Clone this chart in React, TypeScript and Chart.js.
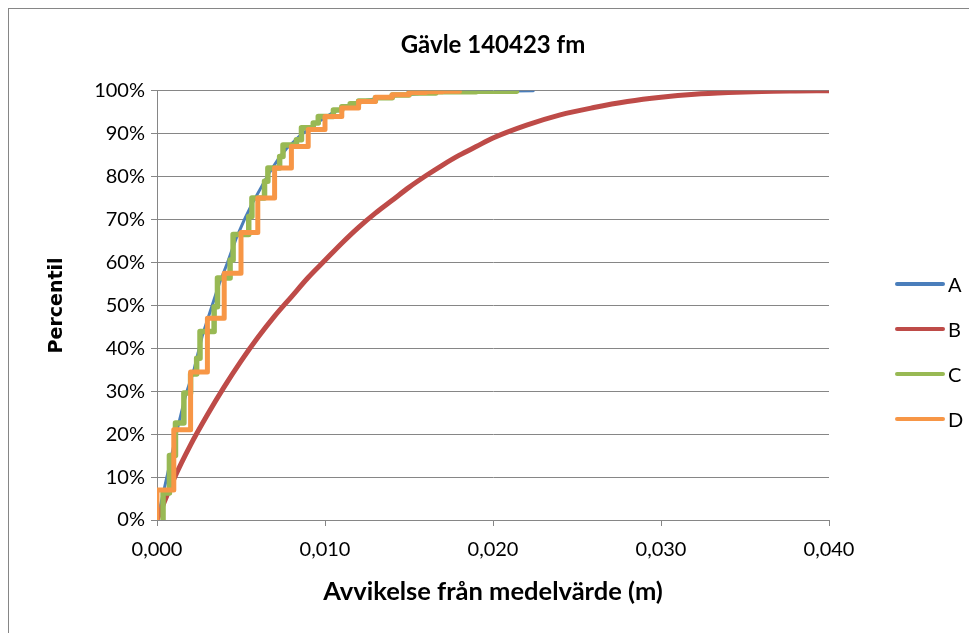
import React, { useEffect, useRef } from 'react';
import { Chart, registerables } from 'chart.js';

Chart.register(...registerables);

const TITLE = 'Gävle 140423 fm';
const X_TITLE = 'Avvikelse från medelvärde (m)';
const Y_TITLE = 'Percentil';
const SERIES_NAMES = ['A', 'B', 'C', 'D'];
const SERIES_COLORS = ['#4A7EBB', '#BE4B48', '#98B954', '#F79646'];
const SERIES_WIDTHS = [3, 5, 5.5, 5];

const X_MIN = 0;
const X_MAX = 0.04;
const X_STEP = 0.01;
const Y_MIN = 0;
const Y_MAX = 100;
const Y_STEP = 10;

// A (blue)
const aX = [0, 0.0003, 0.0007, 0.0012, 0.0017, 0.0022, 0.0027, 0.0032, 0.0037, 0.0042, 0.0047, 0.0052, 0.0057, 0.0062, 0.0067, 0.0072, 0.0077, 0.0085, 0.0095, 0.0105, 0.0115, 0.0125, 0.014, 0.016, 0.018, 0.02, 0.0224];
const aY = [0, 5, 12, 21, 29, 35, 43, 49, 55, 60, 65.5, 70, 74, 77.5, 81, 84, 86.5, 89.5, 92.5, 95, 96.7, 97.8, 98.8, 99.5, 99.8, 99.9, 100];

// B (red)
const bX = [0, 0.001, 0.002, 0.003, 0.004, 0.005, 0.006, 0.007, 0.008, 0.009, 0.01, 0.011, 0.012, 0.013, 0.014, 0.015, 0.016, 0.017, 0.018, 0.019, 0.02, 0.022, 0.024, 0.026, 0.028, 0.03, 0.032, 0.034, 0.036, 0.038, 0.04];
const bY = [0, 9.5, 17.5, 24.5, 31, 37, 42.5, 47.5, 52, 56.5, 60.5, 64.5, 68.2, 71.5, 74.5, 77.5, 80.2, 82.7, 85, 87, 89, 92, 94.4, 96.1, 97.5, 98.5, 99.2, 99.6, 99.85, 99.95, 100];

// C (green), stepped
const cX = [0.00036, 0.00036, 0.00074, 0.0011, 0.0016, 0.002, 0.00236, 0.00256, 0.0034, 0.0036, 0.00435, 0.00453, 0.00546, 0.00565, 0.0064, 0.0066, 0.0073, 0.0075, 0.0083, 0.0086, 0.0093, 0.0096, 0.0105, 0.011, 0.0115, 0.012, 0.013, 0.014, 0.015, 0.0166, 0.019, 0.0214];
const cY = [0, 6.3, 15, 22.6, 29.6, 34, 37.7, 43.9, 49.7, 56.4, 60.6, 66.5, 70.7, 75, 78.9, 82, 84.7, 87.4, 88.6, 91.4, 92.5, 94, 95.5, 96.3, 97, 97.6, 98.4, 99, 99.5, 99.8, 99.9, 100];

// D (orange), stepped at whole millimetres
const dX = [0, 0, 0.001, 0.002, 0.003, 0.004, 0.005, 0.006, 0.007, 0.008, 0.009, 0.01, 0.011, 0.012, 0.013, 0.014, 0.015, 0.016, 0.017, 0.018];
const dY = [0, 7, 21, 34.5, 47, 57.5, 67, 75, 82, 87, 91, 94, 96, 97.5, 98.5, 99.1, 99.6, 99.8, 99.9, 100];

const SERIES_X = [aX, bX, cX, dX];
const SERIES_Y = [aY, bY, cY, dY];
const SERIES_STEPPED: (false | 'before')[] = [false, false, 'before', 'before'];

const FONT = 'Lato, "Open Sans", sans-serif';
const GRID = '#868686';

export default function App() {
  const ref = useRef<HTMLCanvasElement | null>(null);

  useEffect(() => {
    if (!ref.current) return;
    const datasets = SERIES_NAMES.map((name, i) => ({
      label: name,
      data: SERIES_X[i].map((x, j) => ({ x, y: SERIES_Y[i][j] })),
      borderColor: SERIES_COLORS[i],
      backgroundColor: SERIES_COLORS[i],
      borderWidth: SERIES_WIDTHS[i],
      pointRadius: 0,
      pointHoverRadius: 0,
      stepped: SERIES_STEPPED[i],
      tension: i === 1 ? 0.4 : 0,
      cubicInterpolationMode: i === 1 ? ('monotone' as const) : ('default' as const),
      borderCapStyle: 'round' as const,
      borderJoinStyle: 'round' as const,
      order: SERIES_NAMES.length - i,
    }));

    const chart = new Chart(ref.current, {
      type: 'line',
      data: { datasets },
      options: {
        animation: false,
        responsive: false,
        devicePixelRatio: 1,
        layout: { padding: { left: 0, right: 0, top: 0, bottom: 0 } },
        plugins: {
          legend: { display: false },
          tooltip: { enabled: false },
          title: {
            display: true,
            text: TITLE,
            color: '#000',
            font: { family: FONT, size: 24, weight: 'bold' },
            padding: { top: 22, bottom: 31 },
          },
        },
        scales: {
          x: {
            type: 'linear',
            min: X_MIN,
            max: X_MAX,
            afterFit: (s: any) => { s.height = 113; },
            ticks: {
              stepSize: X_STEP,
              color: '#000',
              font: { family: FONT, size: 20 },
              padding: 12,
              callback: (v: any) => Number(v).toFixed(3).replace('.', ','),
            },
            grid: { drawOnChartArea: false, drawTicks: true, tickLength: 6, color: GRID },
            border: { display: true, color: GRID },
            title: {
              display: true,
              text: X_TITLE,
              color: '#000',
              font: { family: FONT, size: 25.5, weight: 'bold' },
              padding: { top: 0, bottom: 26 },
            },
          },
          y: {
            type: 'linear',
            min: Y_MIN,
            max: Y_MAX,
            afterFit: (s: any) => { s.width = 148; },
            ticks: {
              stepSize: Y_STEP,
              color: '#000',
              font: { family: FONT, size: 20 },
              padding: 6,
              callback: (v: any) => `${v}%`,
            },
            grid: { drawOnChartArea: true, drawTicks: true, tickLength: 6, color: GRID },
            border: { display: true, color: GRID },
            title: {
              display: true,
              text: Y_TITLE,
              color: '#000',
              font: { family: '"DejaVu Sans", Verdana, sans-serif', size: 19, weight: 'bold' },
              padding: { top: 37, bottom: 0 },
            },
          },
          yRight: {
            type: 'linear',
            position: 'right',
            display: true,
            min: Y_MIN,
            max: Y_MAX,
            afterFit: (s: any) => { s.width = 148; },
            ticks: { display: false },
            grid: { display: false, drawTicks: false },
            border: { display: false },
          },
        },
      },
    });
    return () => chart.destroy();
  }, []);

  const legendCenters = [284, 329, 374, 419];

  return (
    <div
      style={{
        position: 'relative',
        boxSizing: 'border-box',
        width: 969,
        height: 625,
        borderLeft: `1px solid ${GRID}`,
        borderTop: `1px solid ${GRID}`,
        background: '#fff',
        overflow: 'hidden',
      }}
    >
      <canvas ref={ref} width={968} height={624} style={{ display: 'block', width: 968, height: 624 }} />
      {SERIES_NAMES.map((name, i) => (
        <div key={name}>
          <div
            style={{
              position: 'absolute',
              left: 886,
              top: legendCenters[i] - 9 - 2,
              width: 50,
              height: 4,
              borderRadius: 2,
              background: SERIES_COLORS[i],
            }}
          />
          <div
            style={{
              position: 'absolute',
              left: 939,
              top: legendCenters[i] - 9 - 12,
              height: 24,
              lineHeight: '24px',
              fontFamily: FONT,
              fontSize: 20,
              color: '#000',
            }}
          >
            {name}
          </div>
        </div>
      ))}
    </div>
  );
}
